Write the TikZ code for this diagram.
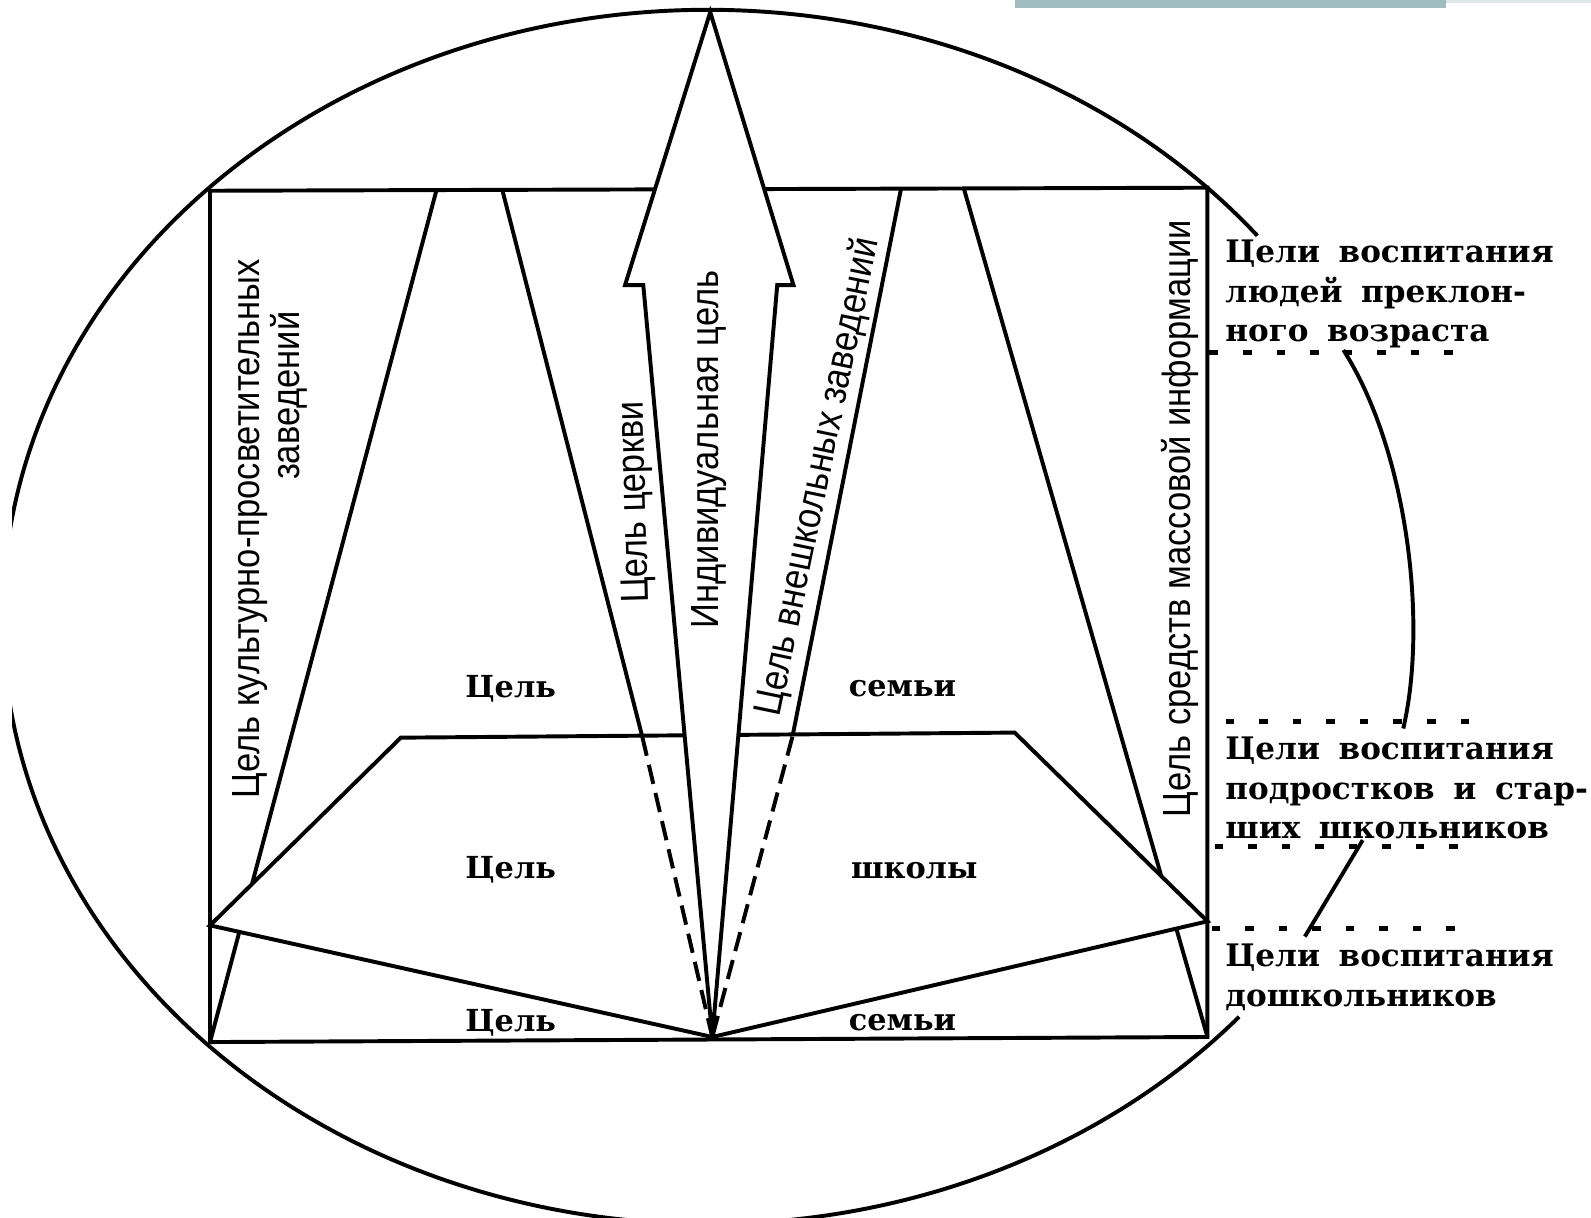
\documentclass[tikz,border=0pt]{standalone}
\usepackage{fontspec}
\setmainfont{DejaVu Serif}
\newfontfamily\narrowsans[FakeStretch=0.88]{Liberation Sans}
\definecolor{barcol}{RGB}{160,188,192}
\definecolor{barline}{RGB}{222,232,233}
\newcommand\agelines[1]{\spaceskip=0.6em\relax\vtop{#1}}
\begin{document}
\begin{tikzpicture}[x=0.01cm,y=0.01cm,
  ln/.style={line width=1.1pt, line join=miter},
  cdash/.style={line width=1.1pt, dash pattern=on 5.5pt off 2.6pt},
  rdash/.style={line width=1.4pt, dash pattern=on 2.4pt off 7pt},
  goal/.style={font=\bfseries\fontsize{8.5}{10}\selectfont, inner sep=0pt, anchor=base west},
  agelab/.style={font=\bfseries\fontsize{8.7}{11}\selectfont, inner sep=0pt, anchor=base west},
  vlab/.style={font=\narrowsans\fontsize{11}{12}\selectfont, inner sep=0pt}]
\useasboundingbox (0,0) rectangle (1568,-1200);
\fill[white] (0,0) rectangle (1568,-1200);
\fill[barcol] (1000,0) rectangle (1425,-8);
\draw[barline, line width=0.6pt] (1425,-1.5) -- (1568,-1.5);
\clip (12,0) rectangle (1568,-1200);

% key points
\coordinate (TL) at (207,-188);
\coordinate (TR) at (1190,-185);
\coordinate (BL) at (207,-1027);
\coordinate (BR) at (1190,-1022);
\coordinate (O) at (702,-1022);
\coordinate (L1) at (430,-188);
\coordinate (L2) at (495,-187);
\coordinate (R2) at (888,-186);
\coordinate (R1) at (950,-186);
\coordinate (C1) at (633,-726);
\coordinate (C2) at (781,-726);
\coordinate (SL) at (207,-912);
\coordinate (ST1) at (395,-727);
\coordinate (ST2) at (1000,-722);
\coordinate (SR) at (1190,-908);

% ellipse
\draw[ln] (698,-608) ++(38.9:6.95cm and 5.98cm)
  arc[start angle=38.9, end angle=318.8, x radius=6.95cm, y radius=5.98cm];

% frame
\draw[ln] (TL) -- (TR) -- (BR) -- (BL) -- cycle;

% family triangle sides, church and extra-school lines
\draw[ln] (L1) -- (BL);
\draw[ln] (R1) -- (BR);
\draw[ln] (L2) -- (C1);
\draw[ln] (R2) -- (C2);

% school trapezoid
\draw[ln, fill=white] (SL) -- (ST1) -- (ST2) -- (SR) -- (O) -- cycle;
\draw[cdash] (C1) -- (O);
\draw[cdash] (C2) -- (O);

% individual arrow
\draw[ln, fill=white] (O) -- (634,-281) -- (616,-281) -- (700,-12)
  -- (782,-281) -- (766,-281) -- cycle;

% goal labels
\node[goal] (f1) at (458,-687) {Цель};
\node[goal] (f2) at (836,-686) {семьи};
\node[goal] (s1) at (458,-866) {Цель};
\node[goal] (s2) at (838,-866) {школы};
\node[goal] (f3) at (458,-1017) {Цель};
\node[goal] (f4) at (836,-1016) {семьи};

% vertical labels
\node[vlab, rotate=90] (kult) at (246,-521) {Цель культурно-просветительных};
\node[vlab, rotate=90] (kult2) at (285,-390) {заведений};
\node[vlab, rotate=91.5] (church) at (627,-495) {Цель церкви};
\node[vlab, rotate=90] (indiv) at (699,-443) {Индивидуальная цель};
\node[vlab, rotate=78.3] (extra) at (807,-470) {Цель внешкольных заведений};
\node[vlab, rotate=90] (media) at (1163,-511) {Цель средств массовой информации};

% age labels
\node[agelab] (g1) at (1207,-259) {\agelines{\hbox{Цели воспитания}\hbox{людей преклон-}\hbox{ного возраста}}};
\node[agelab] (g2) at (1207,-749) {\agelines{\hbox{Цели воспитания}\hbox{подростков и стар-}\hbox{ших школьников}}};
\node[agelab] (g3) at (1207,-953) {\agelines{\hbox{Цели воспитания}\hbox{дошкольников}}};

% dashed separators and range marks
\coordinate (d1a) at (1192,-347); \coordinate (d1b) at (1440,-347);
\coordinate (d2a) at (1208,-711); \coordinate (d2b) at (1465,-711);
\coordinate (d3a) at (1197,-834); \coordinate (d3b) at (1450,-834);
\coordinate (d4a) at (1194,-915); \coordinate (d4b) at (1445,-915);
\draw[rdash] (d1a) -- (d1b);
\draw[rdash] (d2a) -- (d2b);
\draw[rdash] (d3a) -- (d3b);
\draw[rdash] (d4a) -- (d4b);
\coordinate (k1) at (1324,-345);
\coordinate (k2) at (1383,-718);
\coordinate (k3) at (1343,-828);
\coordinate (k4) at (1286,-923);
\draw[ln] (k1) .. controls (1385,-440) and (1408,-610) .. (k2);
\draw[ln] (k3) -- (k4);
\end{tikzpicture}
\end{document}
